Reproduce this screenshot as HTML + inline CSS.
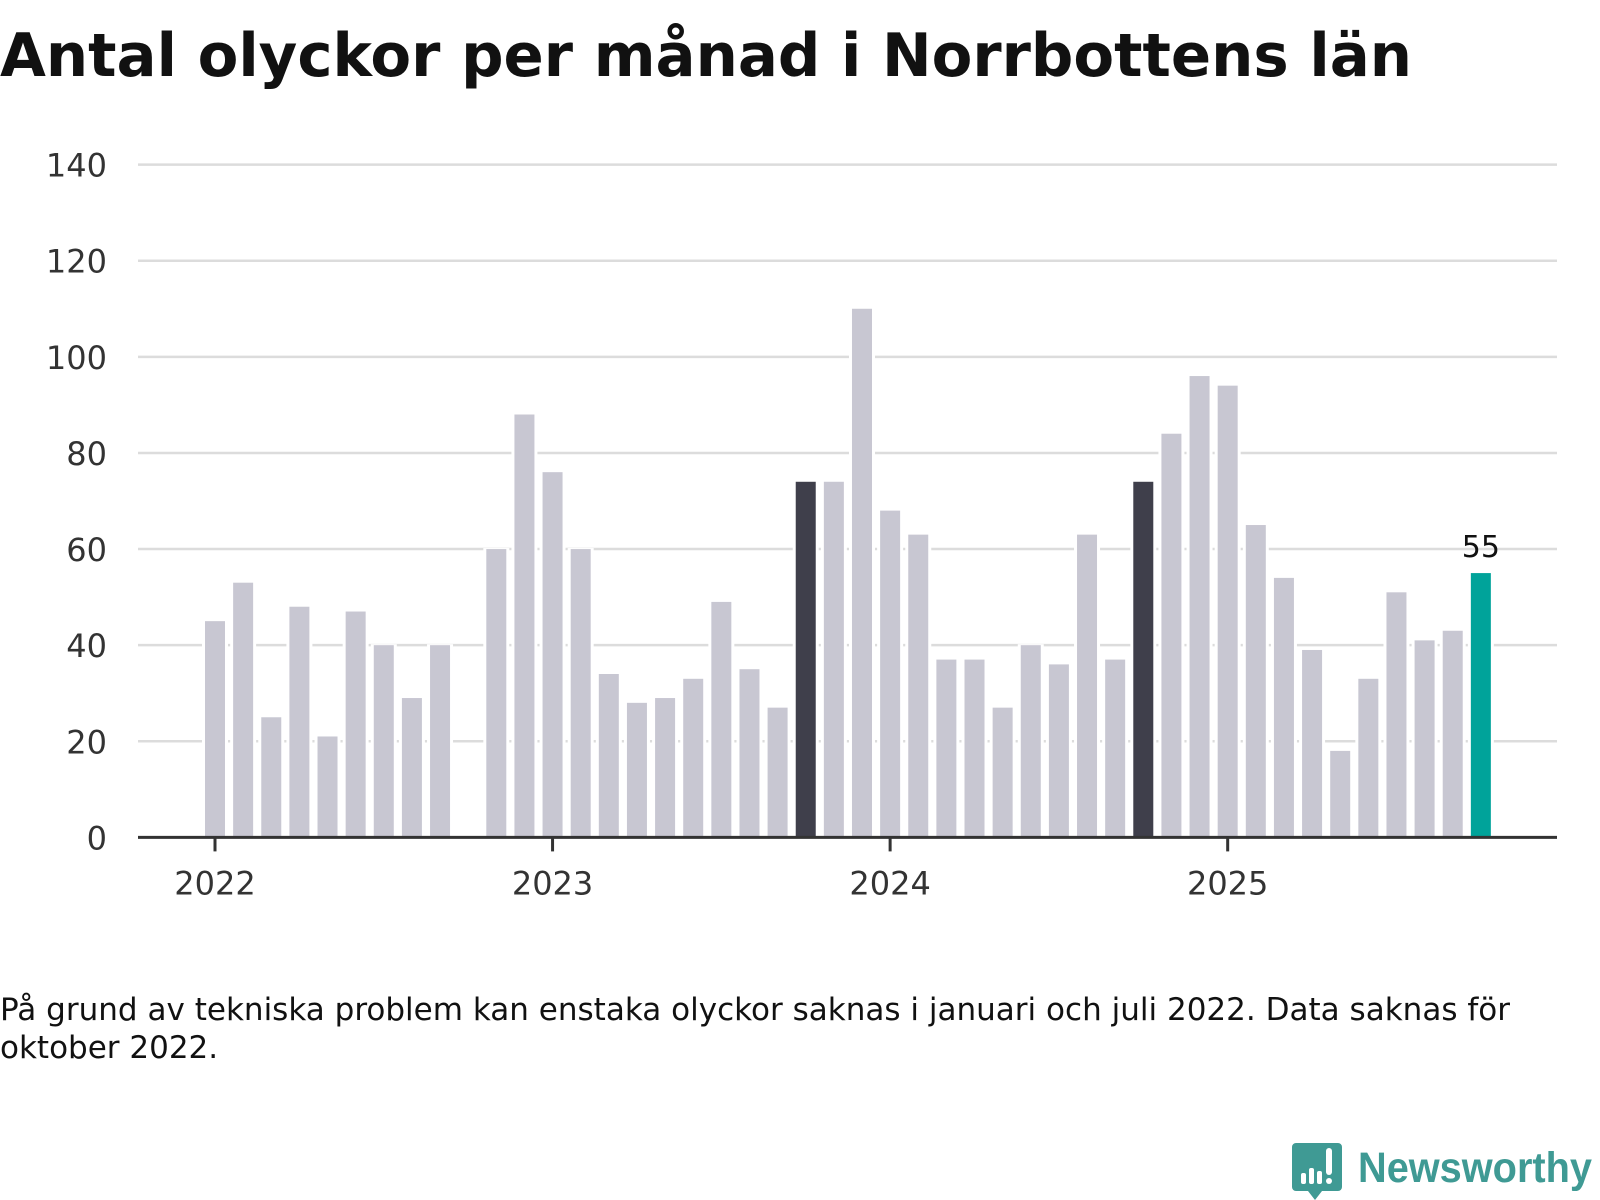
<!DOCTYPE html>
<html><head><meta charset="utf-8"><style>
html,body{margin:0;padding:0;background:#fff;}
svg{display:block;font-family:"DejaVu Sans","Liberation Sans",sans-serif;}
</style></head><body>
<svg id="chart" width="1600" height="1200" viewBox="0 0 1600 1200">
<text x="0" y="76" font-size="60" font-weight="bold" fill="#111" textLength="1412" lengthAdjust="spacingAndGlyphs">Antal olyckor per månad i Norrbottens län</text>
<g id="grid"></g>
<g id="bars"></g>
<g id="xaxis"></g>
<text x="0" y="1020" font-size="31" fill="#111" textLength="1510" lengthAdjust="spacingAndGlyphs">På grund av tekniska problem kan enstaka olyckor saknas i januari och juli 2022. Data saknas för</text>
<text x="0" y="1058" font-size="31" fill="#111">oktober 2022.</text>
<g>
<path d="M1296 1143 h42 a4 4 0 0 1 4 4 v40 a4 4 0 0 1 -4 4 h-16 l-7 9 l-7 -9 h-12 a4 4 0 0 1 -4 -4 v-40 a4 4 0 0 1 4 -4z" fill="#3f9a94"/>
<rect x="1301" y="1173" width="5" height="11" rx="2" fill="#fff"/>
<rect x="1309" y="1168" width="5" height="16" rx="2" fill="#fff"/>
<rect x="1317" y="1171" width="5" height="13" rx="2" fill="#fff"/>
<rect x="1326" y="1148" width="6" height="27" rx="3" fill="#fff"/>
<circle cx="1329" cy="1181" r="3" fill="#fff"/>
<text x="1358" y="1182" font-size="43" font-weight="bold" fill="#3f9a94" font-family="Liberation Sans, sans-serif" textLength="234" lengthAdjust="spacingAndGlyphs">Newsworthy</text>
</g>
</svg>
<script>
const months=["2022-01","2022-02","2022-03","2022-04","2022-05","2022-06","2022-07","2022-08","2022-09","2022-10","2022-11","2022-12","2023-01","2023-02","2023-03","2023-04","2023-05","2023-06","2023-07","2023-08","2023-09","2023-10","2023-11","2023-12","2024-01","2024-02","2024-03","2024-04","2024-05","2024-06","2024-07","2024-08","2024-09","2024-10","2024-11","2024-12","2025-01","2025-02","2025-03","2025-04","2025-05","2025-06","2025-07","2025-08","2025-09","2025-10"];
const values=[45,53,25,48,21,47,40,29,40,null,60,88,76,60,34,28,29,33,49,35,27,74,74,110,68,63,37,37,27,40,36,63,37,74,84,96,94,65,54,39,18,33,51,41,43,55];
const highlighted=["2023-10","2024-10"];
const yTicks=[0,20,40,60,80,100,120,140];
const yearLabels=["2022","2023","2024","2025"];
const NS="http://www.w3.org/2000/svg";
const X0=138,X1=1557,Y0=837.4,YT=164.6,YMAX=140,J0=215,MW=28.13;
function y(v){return Y0-(v/YMAX)*(Y0-YT);}
function x(i){return J0+i*MW;}
function mk(t,a,p){const e=document.createElementNS(NS,t);for(const k in a)e.setAttribute(k,a[k]);p.appendChild(e);return e;}
const grid=document.getElementById('grid'),bars=document.getElementById('bars'),xa=document.getElementById('xaxis');
yTicks.forEach(t=>{
 if(t>0){const l=mk('line',{x1:X0,x2:X1,y1:y(t),y2:y(t),stroke:'#dcdcdc','stroke-width':2.5},grid);
 
 }
 const tx=mk('text',{x:107,y:y(t)+12,'font-size':32,'text-anchor':'end',fill:'#333'},grid);
 tx.textContent=t;
 
 
});
values.forEach((v,i)=>{
 if(v===null)return;
 const last=i===values.length-1;
 const col=last?'#00a39a':(highlighted.includes(months[i])?'#3f3f4b':'#c8c7d2');
 mk('rect',{x:x(i)-13,y:y(v)-1,width:26,height:Y0-y(v)+1,fill:'#fff'},bars);
 const r=mk('rect',{x:x(i)-10,y:y(v),width:20,height:Y0-y(v),fill:col},bars);
 
 
 if(last){const t=mk('text',{x:x(i),y:y(v)-16,'font-size':30,'text-anchor':'middle',fill:'#111'},bars);
 t.textContent=v;
 
 }
});
const ax=mk('line',{x1:X0,x2:X1,y1:Y0,y2:Y0,stroke:'#333','stroke-width':3},xa);


yearLabels.forEach((yl,k)=>{
 const xi=x(k*12);
 mk('line',{x1:xi,x2:xi,y1:Y0,y2:Y0+14,stroke:'#333','stroke-width':3},xa);
 const t=mk('text',{x:xi,y:Y0+57,'font-size':32,'text-anchor':'middle',fill:'#333'},xa);
 t.textContent=yl;
 
 
});
</script>
</body></html>
